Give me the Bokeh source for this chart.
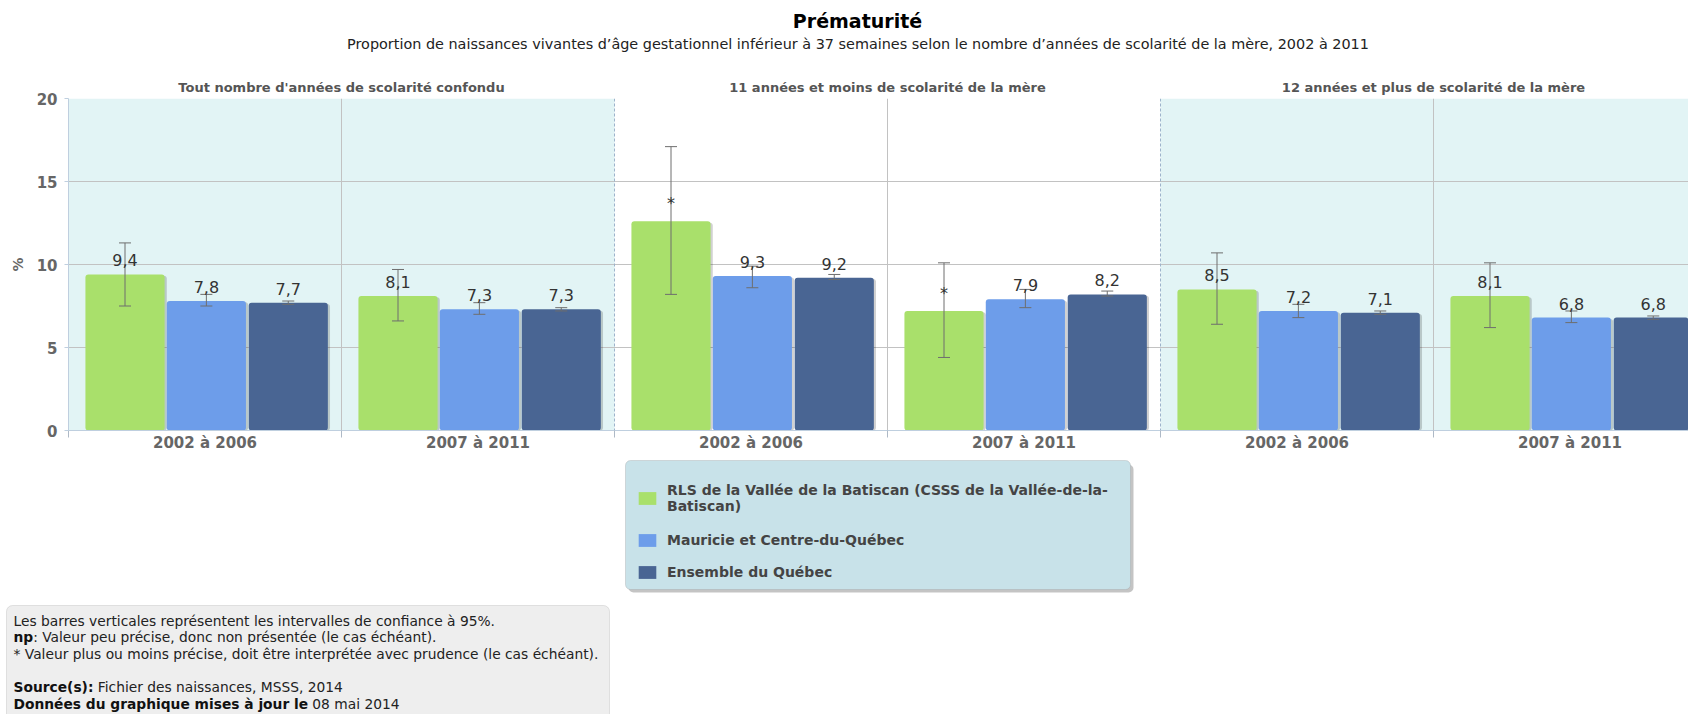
import math
from bokeh.plotting import figure
from bokeh.layouts import column
from bokeh.models import (ColumnDataSource, Range1d, FixedTicker, LinearAxis, Whisker, TeeHead,
                          LabelSet, Label, BoxAnnotation, Span, Legend, LegendItem)
from bokeh.core.properties import value
from bokeh.core.validation import silence
from bokeh.core.validation.warnings import MISSING_RENDERERS
from bokeh.embed import file_html
from bokeh.resources import INLINE

silence(MISSING_RENDERERS, True)

# ---------------- data ----------------
title = "Prématurité"
subtitle = ("Proportion de naissances vivantes d’âge gestationnel inférieur à 37 semaines selon le "
            "nombre d’années de scolarité de la mère, 2002 à 2011")
panels = ["Tout nombre d'années de scolarité confondu",
          "11 années et moins de scolarité de la mère",
          "12 années et plus de scolarité de la mère"]
periods = ["2002 à 2006", "2007 à 2011"]

series_names = ["RLS de la Vallée de la Batiscan (CSSS de la Vallée-de-la-\nBatiscan)",
                "Mauricie et Centre-du-Québec",
                "Ensemble du Québec"]

rls = [9.4, 8.1, 12.6, 7.2, 8.5, 8.1]
rls_lo = [7.5, 6.6, 8.2, 4.4, 6.4, 6.2]
rls_hi = [11.3, 9.7, 17.1, 10.1, 10.7, 10.1]
rls_star = [False, False, True, True, False, False]

mcq = [7.8, 7.3, 9.3, 7.9, 7.2, 6.8]
mcq_lo = [7.5, 7.0, 8.6, 7.4, 6.8, 6.5]
mcq_hi = [8.2, 7.7, 9.9, 8.5, 7.6, 7.2]
mcq_star = [False] * 6

qc = [7.7, 7.3, 9.2, 8.2, 7.1, 6.8]
qc_lo = [7.6, 7.2, 9.1, 8.1, 7.0, 6.7]
qc_hi = [7.8, 7.4, 9.4, 8.4, 7.2, 6.9]
qc_star = [False] * 6

y_ticks = [0, 5, 10, 15, 20]

footnote_lines = [
    ("", "Les barres verticales représentent les intervalles de confiance à 95%."),
    ("np", ": Valeur peu précise, donc non présentée (le cas échéant)."),
    ("", "* Valeur plus ou moins précise, doit être interprétée avec prudence (le cas échéant)."),
    ("Source(s):", "Fichier des naissances, MSSS, 2014"),
    ("Données du graphique mises à jour le", "08 mai 2014"),
]

# ---------------- style / layout ----------------
colors = ["#A9E06B", "#6D9DEA", "#496593"]
panel_bg = "#E2F4F5"
FONT = "DejaVu Sans"
W = 1688
H_HEAD, H_CHART = 74, 384
H_FOOT = 714 - H_HEAD - H_CHART
B_LEFT, B_TOP, B_BOTTOM = 68, 24, 28
FRAME_W = W - B_LEFT
CAT_PX = 273.0
dodge = [-0.293, 0.005, 0.305]
bar_w = 0.29
FOOT_PX = 13.8
# approximate advance widths (em) of the bold prefixes in DejaVu Sans Bold
bold_em = {"": 0.0, "np": 1.424, "Source(s):": 5.79, "Données du graphique mises à jour le": 21.337}
space_em = 0.318

n_cat = len(panels) * len(periods)
centers = [i + 0.5 for i in range(n_cat)]
bounds = list(range(n_cat + 1))


def no_align(f):
    try:
        f.frame_align = False
    except Exception:
        pass


def blank_fig(h):
    f = figure(width=W, height=h, x_range=Range1d(0, W), y_range=Range1d(0, h),
               x_axis_location=None, y_axis_location=None, min_border=0,
               output_backend="svg", toolbar_location=None)
    f.grid.visible = False
    f.outline_line_color = None
    no_align(f)
    return f


# ---------------- header ----------------
head = blank_fig(H_HEAD)
head.add_layout(Label(x=857, y=53.5, x_units="screen", y_units="screen", text=title,
                      text_align="center", text_baseline="middle", text_font=FONT,
                      text_font_style="bold", text_font_size="19px", text_color="#000000"))
head.add_layout(Label(x=857.5, y=31, x_units="screen", y_units="screen", text=subtitle,
                      text_align="center", text_baseline="middle", text_font=FONT,
                      text_font_size="14.4px", text_color="#222222"))

# ---------------- chart ----------------
p = figure(width=W, height=H_CHART, x_range=Range1d(0, FRAME_W / CAT_PX), y_range=Range1d(0, 20),
           output_backend="svg", toolbar_location=None,
           min_border_left=B_LEFT, min_border_right=0, min_border_top=B_TOP,
           min_border_bottom=B_BOTTOM)
p.outline_line_color = None
no_align(p)

for i in range(len(panels)):
    if i % 2 == 0:
        p.add_layout(BoxAnnotation(left=i * len(periods), right=(i + 1) * len(periods),
                                   fill_color=panel_bg, fill_alpha=1, line_color=None, level="image"))

p.ygrid.ticker = FixedTicker(ticks=y_ticks[1:])
p.ygrid.grid_line_color = "#C2C2C2"
inner_bounds = [b for b in bounds[1:-1] if b % len(periods) != 0]
panel_bounds = [b for b in bounds[1:-1] if b % len(periods) == 0]
p.xgrid.ticker = FixedTicker(ticks=inner_bounds)
p.xgrid.grid_line_color = "#C2C2C2"
for b in panel_bounds:
    p.add_layout(Span(location=b, dimension="height", line_color="#9DB3CB", line_dash="3 2",
                      line_width=1, level="underlay"))

all_vals = [(rls, rls_lo, rls_hi, rls_star), (mcq, mcq_lo, mcq_hi, mcq_star), (qc, qc_lo, qc_hi, qc_star)]
for k, (vals, lo, hi, star) in enumerate(all_vals):
    xs = [c + dodge[k] for c in centers]
    labels = ["*" if s else f"{v:.1f}".replace(".", ",") for v, s in zip(vals, star)]
    src = ColumnDataSource(dict(x=xs, val=vals, lo=lo, hi=hi, label=labels,
                                xs_sh=[x + 0.008 for x in xs], val_sh=[v - 0.08 for v in vals]))
    p.vbar(x="xs_sh", top="val_sh", width=bar_w, bottom=0, source=src,
           fill_color="#000000", fill_alpha=0.18, line_color=None, border_radius=3)
    p.vbar(x="x", top="val", width=bar_w, bottom=0, source=src,
           fill_color=colors[k], line_color=None, border_radius=3)
    p.add_layout(Whisker(source=src, base="x", upper="hi", lower="lo", line_color="#6E6E6E",
                         line_width=1, level="annotation",
                         upper_head=TeeHead(size=12, line_color="#6E6E6E", line_width=1),
                         lower_head=TeeHead(size=12, line_color="#6E6E6E", line_width=1)))
    p.add_layout(LabelSet(source=src, x="x", y="val", text="label", text_align="center",
                          text_baseline="bottom", y_offset=8, text_font=value(FONT),
                          text_font_size="16px", text_color="#333333"))

xa = p.xaxis[0]
xa.ticker = FixedTicker(ticks=centers, minor_ticks=bounds)
xa.major_label_overrides = {c: periods[i % len(periods)] for i, c in enumerate(centers)}
xa.axis_line_color = "#BFCFDF"
xa.major_tick_line_color = None
xa.major_tick_out = 0
xa.major_tick_in = 0
xa.minor_tick_line_color = "#AEB9C6"
xa.minor_tick_out = 7
xa.minor_tick_in = 0
xa.major_label_standoff = -4
xa.major_label_text_font = FONT
xa.major_label_text_font_style = "bold"
xa.major_label_text_font_size = "15px"
xa.major_label_text_color = "#666666"

ya = p.yaxis[0]
ya.ticker = FixedTicker(ticks=y_ticks)
ya.axis_line_color = "#BFCFDF"
ya.major_tick_line_color = "#BFCFDF"
ya.major_tick_out = 4
ya.major_tick_in = 0
ya.minor_tick_line_color = None
ya.major_label_standoff = 7
ya.major_label_text_font = FONT
ya.major_label_text_font_style = "bold"
ya.major_label_text_font_size = "15px"
ya.major_label_text_color = "#666666"
ya.axis_label = "%"
ya.axis_label_text_font = FONT
ya.axis_label_text_font_style = "bold"
ya.axis_label_text_font_size = "14px"
ya.axis_label_text_color = "#666666"
ya.axis_label_standoff = 8

panel_centers = [i * len(periods) + len(periods) // 2 for i in range(len(panels))]
top_axis = LinearAxis(ticker=FixedTicker(ticks=panel_centers),
                      major_label_overrides={c: panels[i] for i, c in enumerate(panel_centers)},
                      axis_line_color=None, major_tick_line_color=None, minor_tick_line_color=None,
                      major_tick_out=0, major_tick_in=0, major_label_standoff=4,
                      major_label_text_font=FONT, major_label_text_font_style="bold",
                      major_label_text_font_size="13px", major_label_text_color="#555555")
p.add_layout(top_axis, "above")

# ---------------- legend + footnote ----------------
foot = blank_fig(H_FOOT)


def scr(page_y):
    return 714 - page_y


# legend frame with its drop shadow
foot.add_layout(BoxAnnotation(left=628, right=1133, top=scr(464), bottom=scr(592),
                              left_units="screen", right_units="screen",
                              top_units="screen", bottom_units="screen",
                              fill_color="#555555", fill_alpha=0.35, line_color=None,
                              border_radius=5, level="underlay"))
foot.add_layout(BoxAnnotation(left=625, right=1130, top=scr(460), bottom=scr(589),
                              left_units="screen", right_units="screen",
                              top_units="screen", bottom_units="screen",
                              fill_color="#C8E2E9", fill_alpha=1, line_color="#999999",
                              line_width=1, border_radius=5, level="underlay"))

proxies = [foot.vbar(x=[math.nan], top=[math.nan], width=1, fill_color=colors[k],
                     line_color=None, border_radius=3) for k in range(3)]
legend_style = dict(orientation="vertical", background_fill_alpha=0, border_line_color=None,
                    label_text_font=FONT, label_text_font_style="bold", label_text_font_size="14px",
                    label_text_color="#444444", glyph_width=22, glyph_height=16, label_standoff=9,
                    padding=0, spacing=10, margin=0, label_height=22)
legend_a = Legend(items=[LegendItem(label=series_names[0], renderers=[proxies[0]])],
                  location=(636, scr(513.5)), **legend_style)
legend_b = Legend(items=[LegendItem(label=series_names[k], renderers=[proxies[k]]) for k in (1, 2)],
                  location=(636, scr(582.5)), **legend_style)
foot.add_layout(legend_a, "center")
foot.add_layout(legend_b, "center")

foot.add_layout(BoxAnnotation(left=6, right=609, top=scr(605), bottom=-20,
                              left_units="screen", right_units="screen",
                              top_units="screen", bottom_units="screen",
                              fill_color="#EEEEEE", fill_alpha=1, line_color="#AAAAAA",
                              line_width=1, border_radius=6, level="underlay"))
line_y = [scr(y) for y in (620.1, 636.8, 653.5, 686.9, 703.4)]
for (b, t), yy in zip(footnote_lines, line_y):
    x0 = 13
    if b:
        foot.add_layout(Label(x=x0, y=yy, x_units="screen", y_units="screen", text=b,
                              text_baseline="middle", text_font=FONT, text_font_style="bold",
                              text_font_size=f"{FOOT_PX}px", text_color="#111111"))
    gap = 0 if (not b or t.startswith(":")) else space_em
    foot.add_layout(Label(x=x0 + (bold_em[b] + gap) * FOOT_PX, y=yy, x_units="screen",
                          y_units="screen", text=t, text_baseline="middle", text_font=FONT,
                          text_font_size=f"{FOOT_PX}px", text_color="#222222"))

layout = column(head, p, foot, spacing=0)
open("out.html", "w").write(file_html(layout, INLINE))
